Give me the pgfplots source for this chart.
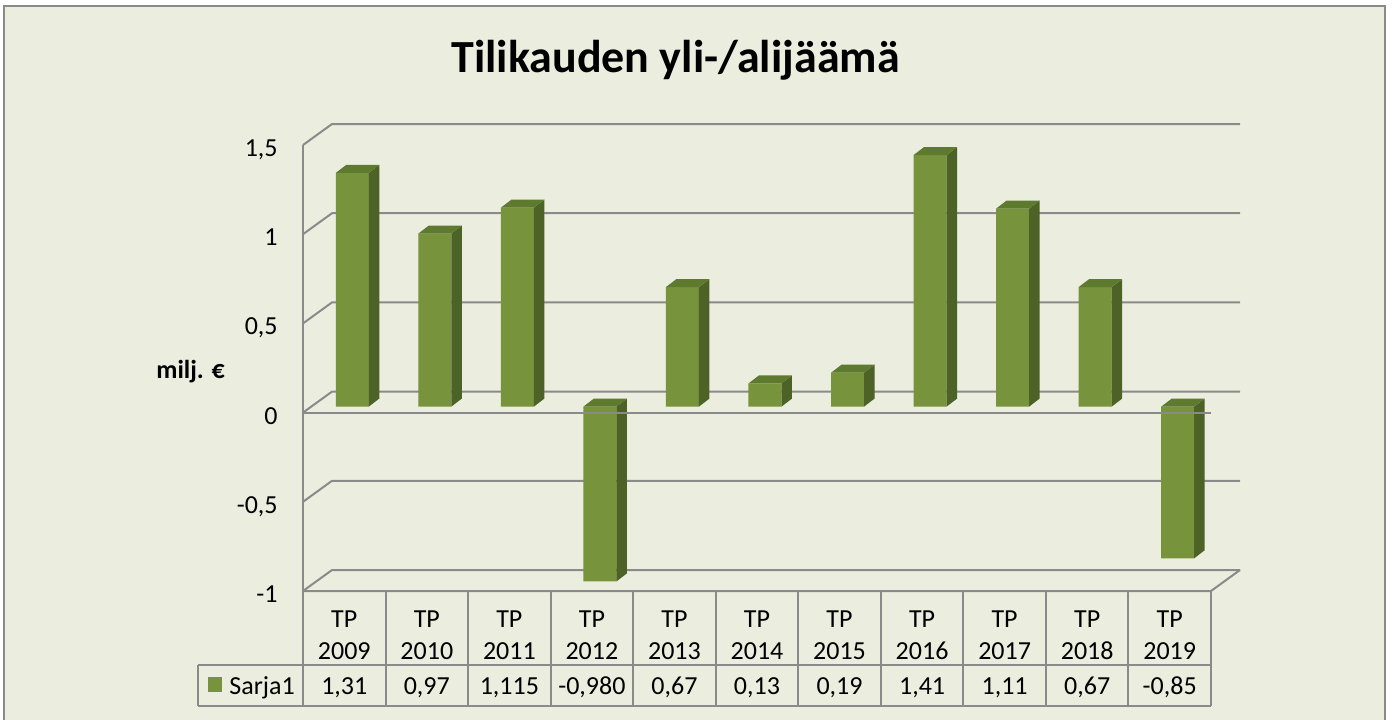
\documentclass[border=0pt]{standalone}
\usepackage{pgfplots}
\pgfplotsset{compat=1.18}
\usepackage{pgfplotstable}
\usepackage{fontspec}
\setmainfont{Carlito}
\definecolor{bg}{HTML}{EBEEDF}
\definecolor{barfront}{HTML}{77933C}
\definecolor{barside}{HTML}{4C6226}
\definecolor{bartop}{HTML}{5E7A2F}
\definecolor{gridc}{HTML}{8A8A8A}
\newcommand\tfont{\fontsize{13}{15}\selectfont}

\pgfplotstableread{
x v
0.5 1.31
1.5 0.97
2.5 1.115
3.5 -0.98
4.5 0.67
5.5 0.13
6.5 0.19
7.5 1.41
8.5 1.11
9.5 0.67
10.5 -0.85
}\datatable

\begin{document}
\begin{tikzpicture}
\begin{scope}[x=0.5pt,y=-0.5pt]
  \path[use as bounding box] (0,0) rectangle (1394,719);
  \fill[white] (0,0) rectangle (1394,719);
  \fill[bg] (4,6) rectangle (1385,730);
  \draw[gridc, line width=1pt] (4,730) -- (4,6) -- (1385,6) -- (1385,730);
  % back wall grid lines with left-wall diagonals
  \foreach \v in {1.5,1,0.5,0,-0.5,-1} {
    \pgfmathsetmacro\yy{412.6-178.4*\v}
    \draw[gridc, line width=1pt] (303,\yy) -- (332,\yy-21) -- (1240,\yy-21);
  }
  \draw[gridc, line width=1pt] (303,145) -- (303,591);
  \draw[gridc, line width=1pt] (303,591) -- (1211,591) -- (1240,570);
\end{scope}

\begin{axis}[
  at={(155.5pt,-292.5pt)}, anchor=south west,
  scale only axis, width=454pt, height=223pt,
  xmin=0, xmax=11, ymin=-1, ymax=1.5,
  clip=false,
  axis line style={draw=none},
  xtick=\empty,
  ytick={-1,-0.5,0,0.5,1,1.5},
  yticklabels={-1,{-0,5},0,{0,5},1,{1,5}},
  major tick length=0pt,
  ytick style={draw=none},
  yticklabel style={anchor=base east, inner sep=0pt, xshift=-16.5pt, yshift=-8.7pt, font=\tfont},
]
\addplot[ybar, bar width=0.4, fill=barfront, draw=none] table[x=x,y=v]{\datatable};
\pgfplotsinvokeforeach{0,...,10}{
  \pgfplotstablegetelem{#1}{v}\of\datatable
  \let\val\pgfplotsretval
  \pgfmathsetmacro\xa{#1+0.7}
  \pgfmathsetmacro\xb{#1+0.827}
  \pgfmathsetmacro\xc{#1+0.3}
  \pgfmathsetmacro\xd{#1+0.427}
  \pgfmathsetmacro\vt{\val+0.045}
  \pgfmathsetmacro\tp{max(\val,0)}
  \pgfmathsetmacro\tpt{\tp+0.045}
  \edef\temp{\noexpand\addplot[fill=barside,draw=none] coordinates {(\xa,0) (\xb,0.045) (\xb,\vt) (\xa,\val)} --cycle;
    \noexpand\addplot[fill=bartop,draw=none] coordinates {(\xc,\tp) (\xd,\tpt) (\xb,\tpt) (\xa,\tp)} --cycle;}
  \temp
}
\end{axis}

\begin{scope}[x=0.5pt,y=-0.5pt]
  % front category axis at 0 (drawn over the bars)
  \draw[gridc, line width=1pt] (303,412.6) -- (1211,412.6);
  % data table
  \foreach \k in {0,...,11} {
    \draw[gridc, line width=1pt] (303+\k*82.545,591) -- (303+\k*82.545,706);
  }
  \draw[gridc, line width=1pt] (198,665) -- (1211,665);
  \draw[gridc, line width=1pt] (198,706) -- (1211,706);
  \draw[gridc, line width=1pt] (198,665) -- (198,706);
  \foreach \yr/\val [count=\k from 0] in {2009/{1,31},2010/{0,97},2011/{1,115},2012/{-0,980},2013/{0,67},2014/{0,13},2015/{0,19},2016/{1,41},2017/{1,11},2018/{0,67},2019/{-0,85}} {
    \node[anchor=base, inner sep=0pt, font=\tfont] at (303+\k*82.545+41.27,627) {TP};
    \node[anchor=base, inner sep=0pt, font=\tfont] at (303+\k*82.545+41.27,659) {\yr};
    \node[anchor=base, inner sep=0pt, font=\tfont] at (303+\k*82.545+41.27,694) {\val};
  }
  \fill[barfront] (208,677) rectangle (222,692);
  \node[anchor=base west, inner sep=0pt, font=\tfont] at (229,694) {Sarja1};
  \node[anchor=base west, inner sep=0pt, font=\bfseries\tfont] at (156,378) {milj. €};
  \node[anchor=base, inner sep=0pt, font=\bfseries\fontsize{23}{28}\selectfont] at (675.5,72) {Tilikauden yli-/alijäämä};
\end{scope}
\end{tikzpicture}
\end{document}
